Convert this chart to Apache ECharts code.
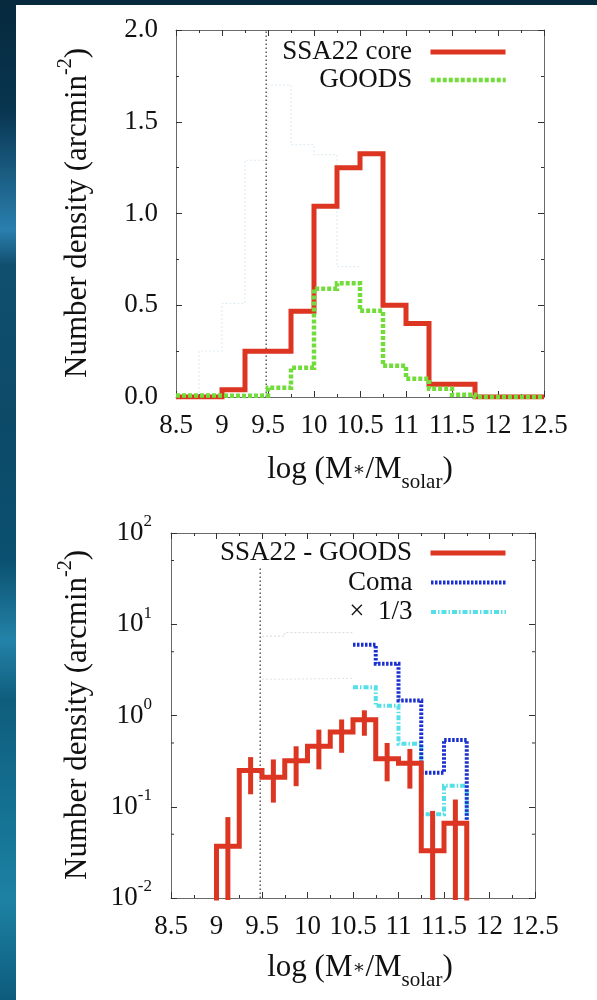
<!DOCTYPE html>
<html>
<head>
<meta charset="utf-8">
<script src="https://cdn.jsdelivr.net/npm/echarts@6.0.0/dist/echarts.min.js"></script>
<style>
html,body{margin:0;padding:0;width:597px;height:1000px;overflow:hidden;}
body{background:linear-gradient(180deg,#06293d 0px,#083550 110px,#2a7fae 230px,#114f6e 265px,#0c4a68 420px,#0b5070 560px,#2383a8 640px,#0f5d7d 700px,#157394 820px,#1d82a4 900px,#0d5b7c 1000px);}
#panel{position:absolute;left:16px;top:5px;width:581px;height:995px;background:#ffffff;}
#chart{position:absolute;left:0;top:0;width:597px;height:1000px;}
</style>
</head>
<body>
<div id="panel"></div>
<div id="chart"></div>
<script>
// ---------- data ----------
// top panel: bin edges (log M*/Msun) and number densities (arcmin^-2)
const topEdges   = [8.5, 8.75, 9.0, 9.25, 9.5, 9.75, 10.0, 10.25, 10.5, 10.75, 11.0, 11.25, 11.5, 11.75, 12.0, 12.25, 12.5];
const ssa22Core  = [0, 0, 0.04, 0.25, 0.25, 0.467, 1.04, 1.25, 1.325, 0.50, 0.40, 0.07, 0.07, 0, 0, 0];
const goods      = [0.008, 0.008, 0.006, 0.008, 0.05, 0.16, 0.59, 0.62, 0.47, 0.17, 0.10, 0.045, 0.012, 0, 0, 0];
const faintTopEdges = [8.75, 9.0, 9.25, 9.5, 9.75, 10.0, 10.25, 10.5];
const faintTop      = [0.25, 0.51, 1.29, 1.70, 1.375, 1.32, 0.71];

// bottom panel
const botEdges      = [9.0, 9.25, 9.5, 9.75, 10.0, 10.25, 10.5, 10.75, 11.0, 11.25, 11.5, 11.75];
const ssaMinusGoods = [0.037, 0.25, 0.21, 0.32, 0.46, 0.66, 0.90, 0.336, 0.30, 0.033, 0.066];
const errCenters    = [9.125, 9.375, 9.625, 9.875, 10.125, 10.375, 10.625, 10.875, 11.125, 11.375, 11.625];
const errLow        = [0.004, 0.137, 0.111, 0.168, 0.257, 0.39, 0.60, 0.19, 0.158, 0.004, 0.004];
const errHigh       = [0.077, 0.35, 0.33, 0.46, 0.70, 0.905, 1.14, 0.50, 0.43, 0.09, 0.12];
const comaEdges     = [10.5, 10.75, 11.0, 11.25, 11.5, 11.75];
const coma          = [5.97, 3.70, 1.46, 0.236, 0.54];
const comaThird     = [2.04, 1.28, 0.49, 0.083, 0.17];
const comaTail      = 0.07;
const thirdTail     = 0.07;
const faintComaEdges = [9.5, 9.75, 10.5];
const faintComa      = [7.4, 8.1];
const faintThird     = [2.5, 2.55];
const logMinorTicks  = [0.05, 0.5, 5, 50];

const cutoffMass = 9.48;
const cutoffTop  = [0, 2.0];
const cutoffBot  = [0.01, 42];

// ---------- helpers ----------
function stepPoints(edges, vals, floorStart, floorEnd) {
  const pts = [];
  if (floorStart != null) pts.push([edges[0], floorStart]);
  vals.forEach((v, i) => { pts.push([edges[i], v]); pts.push([edges[i + 1], v]); });
  if (floorEnd != null) pts.push([edges[edges.length - 1], floorEnd]);
  return pts;
}
const FONT = 'Liberation Serif';
const RED = '#dc3522', GREEN = '#72dc3a', BLUE = '#1a2fd0', CYAN = '#55dfe9';
const FRAME = '#6a6a6a';
const tickRich = { t: { fontSize: 27, fontFamily: FONT, color: '#111' } };

function xAx(grid, pos, show) {
  return {
    type: 'value', gridIndex: grid, position: pos, min: 8.5, max: 12.5, interval: 0.5,
    axisLine: { show: true, onZero: false, lineStyle: { color: FRAME, width: 1 } },
    axisTick: { show: true, inside: true, length: 6, lineStyle: { color: '#333' } },
    minorTick: { show: true, splitNumber: 2, length: 3, lineStyle: { color: '#333' } },
    splitLine: { show: false }, minorSplitLine: { show: false },
    axisLabel: { show: show, margin: 15, fontSize: 27, fontFamily: FONT, color: '#111', hideOverlap: false,
      formatter: v => '{t|' + v + '}', rich: tickRich }
  };
}
function yLin(grid, pos, show) {
  return {
    type: 'value', gridIndex: grid, position: pos, min: 0, max: 2, interval: 0.5,
    axisLine: { show: true, onZero: false, lineStyle: { color: FRAME, width: 1 } },
    axisTick: { show: true, inside: true, length: 6, lineStyle: { color: '#333' } },
    minorTick: { show: true, splitNumber: 2, length: 3, lineStyle: { color: '#333' } },
    splitLine: { show: false },
    axisLabel: { show: show, margin: 18, fontSize: 27, fontFamily: FONT, color: '#111',
      formatter: v => '{t|' + v.toFixed(1) + '}', rich: tickRich }
  };
}
function yLog(grid, pos, show) {
  return {
    type: 'log', logBase: 10, gridIndex: grid, position: pos, min: 0.01, max: 100, splitNumber: 4,
    axisLine: { show: true, onZero: false, lineStyle: { color: FRAME, width: 1 } },
    axisTick: { show: true, inside: true, length: 6, lineStyle: { color: '#333' } },
    minorTick: { show: false },
    splitLine: { show: false },
    axisLabel: { show: show, margin: 19, fontFamily: FONT, color: '#111',
      formatter: v => '{m|10}{s|' + Math.round(Math.log10(v)) + '}',
      rich: {
        m: { fontSize: 27, fontFamily: FONT, color: '#111', lineHeight: 39, verticalAlign: 'middle' },
        s: { fontSize: 17, fontFamily: FONT, color: '#111', lineHeight: 17, verticalAlign: 'top' }
      } }
  };
}
function legendRow(name, top, lineStyle) {
  return {
    data: [name], right: 89, top: top, orient: 'horizontal', align: 'right', padding: 0,
    itemWidth: 75, itemHeight: 14, selectedMode: false,
    formatter: n => '{t|' + n + '\u00a0\u00a0}',
    textStyle: { fontSize: 27, fontFamily: FONT, color: '#111', rich: { t: { fontSize: 27, fontFamily: FONT, color: '#111' } } },
    itemStyle: { opacity: 0, borderWidth: 0 },
    lineStyle: lineStyle
  };
}
function lineSeries(name, xi, yi, data, color, width, type, z) {
  return { type: 'line', name: name, xAxisIndex: xi, yAxisIndex: yi, data: data, symbol: 'none',
    lineStyle: { color: color, width: width, type: type, cap: 'butt', join: 'miter' },
    itemStyle: { color: color }, animation: false, z: z, silent: true };
}

const titleRich = {
  m: { fontSize: 31, fontFamily: FONT, fill: '#111', lineHeight: 44, verticalAlign: 'middle' },
  s: { fontSize: 20, fontFamily: FONT, fill: '#111', lineHeight: 20, verticalAlign: 'top' }
};
const xTitleRich = {
  m: { fontSize: 31, fontFamily: FONT, fill: '#111', lineHeight: 45, verticalAlign: 'middle' },
  a: { fontSize: 19, fontFamily: 'DejaVu Serif', fill: '#111', lineHeight: 45, verticalAlign: 'middle' },
  b: { fontSize: 21, fontFamily: FONT, fill: '#111', lineHeight: 20, verticalAlign: 'bottom' }
};
function yTitle(cy) {
  return { type: 'text', x: 78, y: cy, rotation: Math.PI / 2,
    style: { text: '{m|Number density (arcmin}{s|-2}{m|)}', rich: titleRich, align: 'center', verticalAlign: 'middle' } };
}
function xTitle(cy) {
  return { type: 'text', x: 360, y: cy,
    style: { text: '{m|log (M}{a|∗}{m|/M}{b|solar}{m|)}', rich: xTitleRich, align: 'center', verticalAlign: 'middle' } };
}

const chart = echarts.init(document.getElementById('chart'), null, { renderer: 'canvas' });
chart.setOption({
  backgroundColor: 'transparent',
  animation: false,
  textStyle: { fontFamily: FONT, color: '#111' },
  grid: [
    { left: 176, top: 30, width: 368, height: 367, outerBoundsMode: 'none', containLabel: false },
    { left: 171, top: 533, width: 364, height: 365, outerBoundsMode: 'none', containLabel: false }
  ],
  xAxis: [xAx(0, 'bottom', true), xAx(0, 'top', false), xAx(1, 'bottom', true), xAx(1, 'top', false)],
  yAxis: [yLin(0, 'left', true), yLin(0, 'right', false), yLog(1, 'left', true), yLog(1, 'right', false)],
  legend: [
    legendRow('SSA22 core', 38.5, { color: RED, width: 5, type: 'solid' }),
    legendRow('GOODS', 66.5, { color: GREEN, width: 4.5, type: [4, 2] }),
    legendRow('SSA22 - GOODS', 539.5, { color: RED, width: 5, type: 'solid' }),
    legendRow('Coma', 569, { color: BLUE, width: 4, type: [2.5, 1.5] }),
    legendRow('×  1/3', 598.5, { color: CYAN, width: 4, type: [5, 2, 1.5, 2] })
  ],
  graphic: [yTitle(213), xTitle(470), yTitle(715), xTitle(968)],
  series: [
    // ---- top panel ----
    lineSeries('faintTop', 0, 0, stepPoints(faintTopEdges, faintTop, 0, null), '#dcebf2', 1, [2, 2], 1),
    lineSeries('cutTop', 0, 0, cutoffTop.map(v => [cutoffMass, v]), '#333', 1.2, [1.5, 2.5], 2),
    lineSeries('SSA22 core', 0, 0, stepPoints(topEdges, ssa22Core, null, null), RED, 5, 'solid', 3),
    lineSeries('GOODS', 0, 0, stepPoints(topEdges, goods, null, null), GREEN, 4.5, [4, 2], 4),
    // ---- bottom panel ----
    lineSeries('faintComa', 2, 2, stepPoints(faintComaEdges, faintComa, null, null), '#dadada', 1, [2, 2], 1),
    lineSeries('faintThird', 2, 2, stepPoints(faintComaEdges, faintThird, null, null), '#e2e2e2', 1, [2, 2], 1),
    lineSeries('cutBot', 2, 2, cutoffBot.map(v => [cutoffMass, v]), '#333', 1.2, [1.5, 2.5], 2),
    lineSeries('×  1/3', 2, 2, stepPoints(comaEdges, comaThird, null, thirdTail), CYAN, 4, [5, 2, 1.5, 2], 3),
    lineSeries('Coma', 2, 2, stepPoints(comaEdges, coma, null, comaTail), BLUE, 4, [2.5, 1.5], 4),
    lineSeries('SSA22 - GOODS', 2, 2, stepPoints(botEdges, ssaMinusGoods, 0.001, 0.001), RED, 5, 'solid', 5),
    {
      type: 'custom', name: 'errors', xAxisIndex: 2, yAxisIndex: 2, z: 6, silent: true, animation: false,
      data: errCenters.map((c, i) => [c, ssaMinusGoods[i], errLow[i], errHigh[i]]),
      encode: { x: 0, y: 1 },
      renderItem: function (params, api) {
        const cs = params.coordSys;
        const yb = cs.y + cs.height;
        const p1 = api.coord([api.value(0), api.value(3)]);
        const p2 = api.coord([api.value(0), api.value(2)]);
        return { type: 'line',
          shape: { x1: p1[0], y1: Math.min(p1[1], yb), x2: p2[0], y2: Math.min(p2[1], yb + 2) },
          style: { stroke: RED, lineWidth: 5 } };
      }
    },
    {
      type: 'custom', name: 'minorLogTicks', xAxisIndex: 2, yAxisIndex: 2, z: 6, silent: true, animation: false,
      data: logMinorTicks.map(v => [8.5, v]),
      encode: { x: 0, y: 1 },
      renderItem: function (params, api) {
        const cs = params.coordSys;
        const p = api.coord([api.value(0), api.value(1)]);
        return { type: 'group', children: [
          { type: 'line', shape: { x1: cs.x, y1: p[1], x2: cs.x + 3, y2: p[1] }, style: { stroke: '#333', lineWidth: 1 } },
          { type: 'line', shape: { x1: cs.x + cs.width - 3, y1: p[1], x2: cs.x + cs.width, y2: p[1] }, style: { stroke: '#333', lineWidth: 1 } }
        ] };
      }
    }
  ]
});
</script>
</body>
</html>
